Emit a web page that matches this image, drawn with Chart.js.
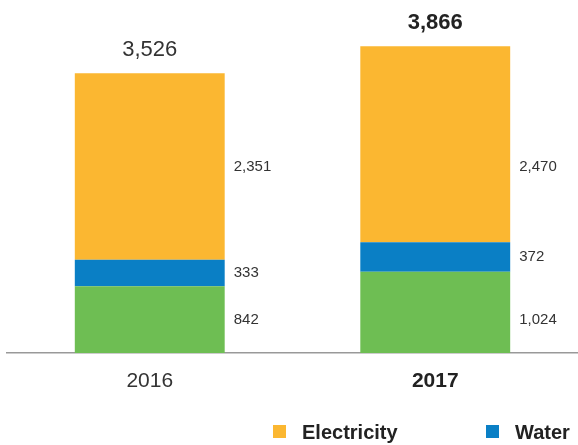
<!DOCTYPE html>
<html lang="en">
<head>
  <meta charset="UTF-8" />
  <title>Electricity and Water</title>
  <script src="https://cdn.jsdelivr.net/npm/chart.js"></script>
  <style>
    html, body { margin: 0; padding: 0; background: #fff; }
    #wrap { position: relative; width: 578px; height: 445px; overflow: hidden; }
    #legend { position: absolute; top: 419px; left: 0; width: 578px; height: 26px;
              font-family: "Liberation Sans", Arial, sans-serif; font-size: 20px; font-weight: bold; color: #222; }
    .item { position: absolute; top: 0; white-space: nowrap; line-height: 26px; }
    .box { display: inline-block; width: 13px; height: 13px; margin-right: 16px; vertical-align: 1px; }
  </style>
</head>
<body>
<div id="wrap">
  <canvas id="chart" width="578" height="445"></canvas>
  <div id="legend"></div>
</div>

<script>
const years = ['2016', '2017'];
const gas = [842, 1024];
const water = [333, 372];
const electricity = [2351, 2470];
const totals = [3526, 3866];

const colors = { gas: '#6ebe53', water: '#0a7fc5', electricity: '#fbb731' };
const font = '"Liberation Sans", Arial, sans-serif';

// labels next to each segment and the totals above the bars
const labelPlugin = {
  id: 'labels',
  afterDatasetsDraw(chart) {
    const ctx = chart.ctx;
    const y = chart.scales.y;
    ctx.save();
    chart.data.datasets.forEach((ds, di) => {
      const meta = chart.getDatasetMeta(di);
      meta.data.forEach((bar, i) => {
        // orange and green rows share the first bar's height
        const j = di === 1 ? i : 0;
        let b = 0;
        for (let k = 0; k < di; k++) b += chart.data.datasets[k].data[j];
        const mid = (y.getPixelForValue(b) + y.getPixelForValue(b + chart.data.datasets[di].data[j])) / 2;
        ctx.font = '15px ' + font;
        ctx.fillStyle = '#333';
        ctx.textAlign = 'left';
        ctx.textBaseline = 'middle';
        ctx.fillText(ds.data[i].toLocaleString('en-US'), bar.x + bar.width / 2 + 9, mid);
      });
    });
    const meta = chart.getDatasetMeta(0);
    meta.data.forEach((bar, i) => {
      const top = y.getPixelForValue(totals[i]);
      ctx.font = (i === 1 ? 'bold ' : '') + '22px ' + font;
      ctx.fillStyle = i === 1 ? '#222' : '#333';
      ctx.textAlign = 'center';
      ctx.textBaseline = 'alphabetic';
      ctx.fillText(totals[i].toLocaleString('en-US'), bar.x, top - 17);
      ctx.font = (i === 1 ? 'bold ' : '') + '21px ' + font;
      ctx.fillText(years[i], bar.x, y.bottom + 34);
    });
    ctx.restore();
  }
};

new Chart(document.getElementById('chart'), {
  type: 'bar',
  data: {
    labels: years,
    datasets: [
      { label: 'Gas', data: gas, backgroundColor: colors.gas },
      { label: 'Water', data: water, backgroundColor: colors.water },
      { label: 'Electricity', data: electricity, backgroundColor: colors.electricity }
    ]
  },
  options: {
    responsive: false,
    animation: false,
    layout: { padding: { left: 7, right: 0, top: 0, bottom: 84 } },
    datasets: { bar: { barPercentage: 1, categoryPercentage: 0.525 } },
    plugins: { legend: { display: false }, tooltip: { enabled: false } },
    scales: {
      x: {
        stacked: true,
        grid: { display: false },
        ticks: { display: false },
        border: { display: true, color: '#999', width: 1.5 }
      },
      y: {
        stacked: true,
        display: false,
        min: 0,
        max: 4450
      }
    }
  },
  plugins: [labelPlugin]
});

const legendItems = [
  { name: 'Electricity', color: colors.electricity, left: 273 },
  { name: 'Water', color: colors.water, left: 486 }
];
const legend = document.getElementById('legend');
legendItems.forEach(it => {
  const d = document.createElement('div');
  d.className = 'item';
  d.style.left = it.left + 'px';
  d.innerHTML = '<span class="box" style="background:' + it.color + '"></span>' + it.name;
  legend.appendChild(d);
});
</script>
</body>
</html>
